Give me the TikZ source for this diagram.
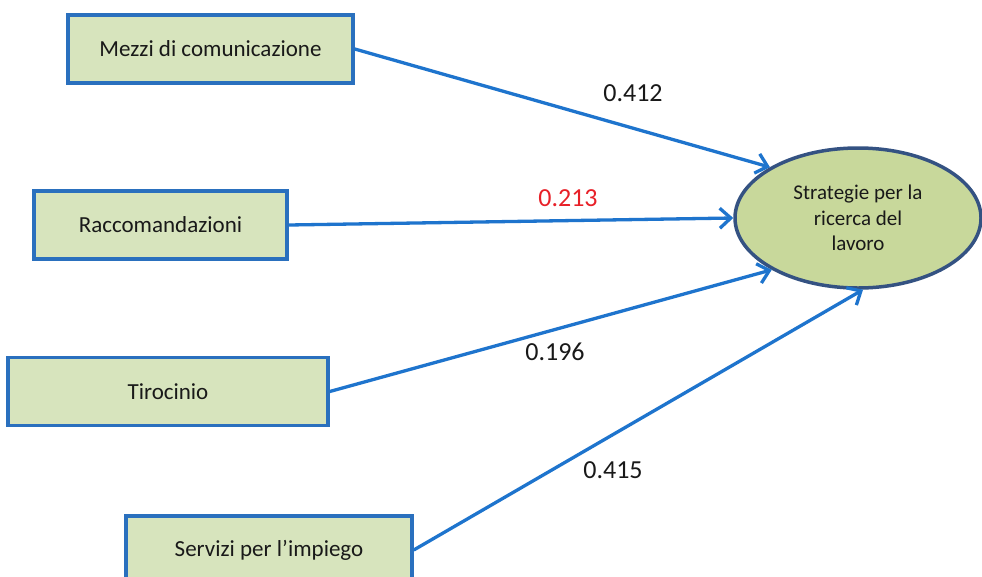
\documentclass[tikz,border=0pt]{standalone}
\usepackage{fontspec}
\setmainfont{Carlito}
\usetikzlibrary{shapes.geometric,arrows.meta}
\definecolor{boxfill}{RGB}{215,228,189}
\definecolor{boxline}{RGB}{42,112,190}
\definecolor{ellfill}{RGB}{200,216,155}
\definecolor{ellline}{RGB}{52,82,130}
\definecolor{arrowc}{RGB}{30,116,205}
\definecolor{redlab}{RGB}{232,32,40}
\tikzset{
  varbox/.style={draw=boxline, line width=3.5pt, fill=boxfill, minimum height=68pt, inner sep=0pt, font=\fontsize{23}{28}\selectfont, text=black!90},
  target/.style={ellipse, draw=ellline, line width=3.5pt, fill=ellfill, minimum width=246pt, minimum height=140pt, inner sep=0pt, align=center, font=\fontsize{21}{25.5}\selectfont, text=black!90},
  path arrow/.style={draw=arrowc, line width=3.3pt, -{Straight Barb[length=11pt,width=20pt]}},
  coef/.style={font=\fontsize{26}{30}\selectfont, text=black!90, inner sep=0pt}
}
\begin{document}
\begin{tikzpicture}[x=1pt,y=-1pt]
\clip (0,0) rectangle (982,576);
\fill[white] (0,0) rectangle (982,576);
\node[varbox, minimum width=285pt] (m) at (210.5,49) {Mezzi di comunicazione};
\node[varbox, minimum width=253pt] (r) at (160.5,225) {Raccomandazioni};
\node[varbox, minimum width=320pt] (t) at (168,391.5) {Tirocinio};
\node[varbox, minimum width=286pt] (s) at (269,550) {Servizi per l’impiego};
\node[target] (E) at (858,218) {Strategie per la\\ricerca del\\lavoro};
\draw[path arrow] (m.east) -- (E.150.4);
\draw[path arrow] (r.east) -- (E.180);
\draw[path arrow] (t.east) -- (E.211.5);
\draw[path arrow] (s.east) -- (E.274);
\node[coef] (l1) at (633,93) {0.412};
\node[coef, text=redlab] (l2) at (568,198) {0.213};
\node[coef] (l3) at (555,352) {0.196};
\node[coef] (l4) at (613,470) {0.415};
\end{tikzpicture}
\end{document}
